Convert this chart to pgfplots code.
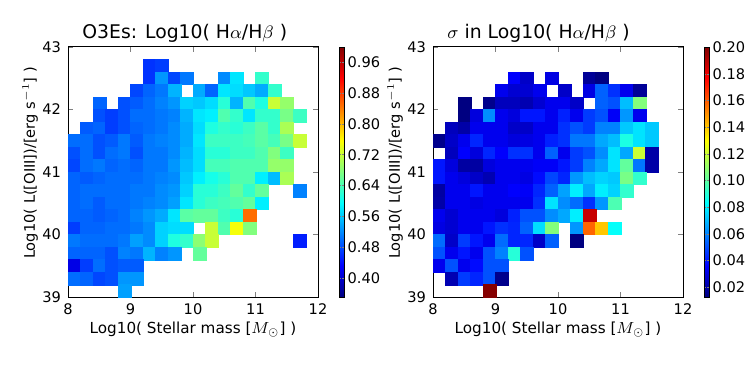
\documentclass[border=0pt]{standalone}
\usepackage{fontspec}
\setmainfont{DejaVu Sans}
\usepackage{pgfplots}
\usepackage{pgfplotstable}
\pgfplotsset{compat=1.18}
\pgfplotstableread{
x y c
9.3 42.7 0.463
9.5 42.7 0.470
9.3 42.5 0.463
9.5 42.5 0.527
9.7 42.5 0.476
9.9 42.5 0.508
10.5 42.5 0.520
10.7 42.5 0.578
11.1 42.5 0.626
9.1 42.3 0.476
9.3 42.3 0.495
9.5 42.3 0.508
9.7 42.3 0.546
10.1 42.3 0.540
10.3 42.3 0.495
10.5 42.3 0.578
10.7 42.3 0.572
10.9 42.3 0.559
11.1 42.3 0.540
11.3 42.3 0.626
8.5 42.1 0.495
8.9 42.1 0.482
9.1 42.1 0.489
9.3 42.1 0.501
9.5 42.1 0.514
9.7 42.1 0.527
9.9 42.1 0.565
10.1 42.1 0.559
10.3 42.1 0.572
10.5 42.1 0.619
10.7 42.1 0.546
10.9 42.1 0.645
11.1 42.1 0.613
11.3 42.1 0.721
11.5 42.1 0.689
8.5 41.9 0.482
8.7 41.9 0.470
8.9 41.9 0.482
9.1 41.9 0.501
9.3 41.9 0.501
9.5 41.9 0.508
9.7 41.9 0.514
9.9 41.9 0.546
10.1 41.9 0.578
10.3 41.9 0.584
10.5 41.9 0.645
10.7 41.9 0.626
10.9 41.9 0.578
11.1 41.9 0.626
11.3 41.9 0.626
11.5 41.9 0.670
11.7 41.9 0.632
8.3 41.7 0.489
8.5 41.7 0.495
8.7 41.7 0.470
8.9 41.7 0.482
9.1 41.7 0.495
9.3 41.7 0.501
9.5 41.7 0.508
9.7 41.7 0.520
9.9 41.7 0.540
10.1 41.7 0.572
10.3 41.7 0.613
10.5 41.7 0.626
10.7 41.7 0.619
10.9 41.7 0.632
11.1 41.7 0.651
11.3 41.7 0.626
11.5 41.7 0.702
8.1 41.5 0.501
8.3 41.5 0.501
8.5 41.5 0.482
8.7 41.5 0.489
8.9 41.5 0.508
9.1 41.5 0.489
9.3 41.5 0.508
9.5 41.5 0.514
9.7 41.5 0.520
9.9 41.5 0.540
10.1 41.5 0.578
10.3 41.5 0.632
10.5 41.5 0.632
10.7 41.5 0.632
10.9 41.5 0.638
11.1 41.5 0.651
11.3 41.5 0.638
11.5 41.5 0.670
11.7 41.5 0.721
8.1 41.3 0.482
8.3 41.3 0.501
8.5 41.3 0.482
8.7 41.3 0.501
8.9 41.3 0.508
9.1 41.3 0.482
9.3 41.3 0.508
9.5 41.3 0.508
9.7 41.3 0.520
9.9 41.3 0.546
10.1 41.3 0.572
10.3 41.3 0.619
10.5 41.3 0.619
10.7 41.3 0.632
10.9 41.3 0.632
11.1 41.3 0.645
11.3 41.3 0.676
11.5 41.3 0.632
8.1 41.1 0.476
8.3 41.1 0.501
8.5 41.1 0.508
8.7 41.1 0.495
8.9 41.1 0.501
9.1 41.1 0.495
9.3 41.1 0.508
9.5 41.1 0.508
9.7 41.1 0.527
9.9 41.1 0.552
10.1 41.1 0.572
10.3 41.1 0.638
10.5 41.1 0.638
10.7 41.1 0.645
10.9 41.1 0.645
11.1 41.1 0.645
11.3 41.1 0.689
11.5 41.1 0.689
8.1 40.9 0.495
8.3 40.9 0.489
8.5 40.9 0.495
8.7 40.9 0.501
8.9 40.9 0.501
9.1 40.9 0.501
9.3 40.9 0.508
9.5 40.9 0.514
9.7 40.9 0.520
9.9 40.9 0.559
10.1 40.9 0.584
10.3 40.9 0.607
10.5 40.9 0.619
10.7 40.9 0.645
10.9 40.9 0.645
11.1 40.9 0.584
11.3 40.9 0.552
11.5 40.9 0.702
8.1 40.7 0.495
8.3 40.7 0.501
8.5 40.7 0.501
8.7 40.7 0.501
8.9 40.7 0.501
9.1 40.7 0.508
9.3 40.7 0.508
9.5 40.7 0.520
9.7 40.7 0.527
9.9 40.7 0.565
10.1 40.7 0.619
10.3 40.7 0.619
10.5 40.7 0.632
10.7 40.7 0.657
10.9 40.7 0.626
11.1 40.7 0.657
11.7 40.7 0.514
8.1 40.5 0.495
8.3 40.5 0.501
8.5 40.5 0.489
8.7 40.5 0.501
8.9 40.5 0.501
9.1 40.5 0.508
9.3 40.5 0.514
9.5 40.5 0.520
9.7 40.5 0.533
9.9 40.5 0.578
10.1 40.5 0.619
10.3 40.5 0.632
10.5 40.5 0.638
10.7 40.5 0.645
10.9 40.5 0.657
11.1 40.5 0.584
8.1 40.3 0.495
8.3 40.3 0.495
8.5 40.3 0.489
8.7 40.3 0.495
8.9 40.3 0.501
9.1 40.3 0.514
9.3 40.3 0.527
9.5 40.3 0.540
9.7 40.3 0.578
9.9 40.3 0.651
10.1 40.3 0.657
10.3 40.3 0.657
10.5 40.3 0.632
10.7 40.3 0.619
10.9 40.3 0.849
8.1 40.1 0.470
8.3 40.1 0.495
8.5 40.1 0.495
8.7 40.1 0.501
8.9 40.1 0.501
9.1 40.1 0.508
9.3 40.1 0.520
9.5 40.1 0.565
9.7 40.1 0.572
9.9 40.1 0.572
10.3 40.1 0.721
10.5 40.1 0.645
10.7 40.1 0.750
10.9 40.1 0.676
8.1 39.9 0.508
8.3 39.9 0.501
8.5 39.9 0.501
8.7 39.9 0.501
8.9 39.9 0.508
9.1 39.9 0.533
9.3 39.9 0.520
9.5 39.9 0.565
9.7 39.9 0.613
9.9 39.9 0.626
10.1 39.9 0.683
10.3 39.9 0.721
11.7 39.9 0.450
8.1 39.7 0.495
8.3 39.7 0.495
8.5 39.7 0.495
8.7 39.7 0.482
8.9 39.7 0.514
9.1 39.7 0.508
9.3 39.7 0.546
9.5 39.7 0.514
9.7 39.7 0.527
10.1 39.7 0.657
8.1 39.5 0.415
8.3 39.5 0.470
8.5 39.5 0.501
8.7 39.5 0.482
8.9 39.5 0.489
9.1 39.5 0.489
8.1 39.3 0.501
8.3 39.3 0.495
8.5 39.3 0.476
8.7 39.3 0.482
8.9 39.3 0.527
9.1 39.3 0.527
8.9 39.1 0.533
}\ratiotable
\pgfplotstableread{
x y c
9.3 42.5 0.036
9.5 42.5 0.026
9.9 42.5 0.031
10.5 42.5 0.017
10.7 42.5 0.013
9.1 42.3 0.033
9.3 42.3 0.028
9.5 42.3 0.028
9.7 42.3 0.033
10.1 42.3 0.026
10.5 42.3 0.031
10.7 42.3 0.054
10.9 42.3 0.045
11.1 42.3 0.033
11.3 42.3 0.017
8.5 42.1 0.013
8.9 42.1 0.015
9.1 42.1 0.024
9.3 42.1 0.024
9.5 42.1 0.022
9.7 42.1 0.028
9.9 42.1 0.033
10.1 42.1 0.033
10.3 42.1 0.026
10.7 42.1 0.054
10.9 42.1 0.051
11.1 42.1 0.071
11.3 42.1 0.107
8.5 41.9 0.013
8.7 41.9 0.030
8.9 41.9 0.062
9.1 41.9 0.033
9.3 41.9 0.030
9.5 41.9 0.040
9.7 41.9 0.040
9.9 41.9 0.033
10.1 41.9 0.042
10.3 41.9 0.033
10.5 41.9 0.047
10.7 41.9 0.051
10.9 41.9 0.035
11.1 41.9 0.064
11.3 41.9 0.033
8.3 41.7 0.024
8.5 41.7 0.020
8.7 41.7 0.033
8.9 41.7 0.033
9.1 41.7 0.033
9.3 41.7 0.026
9.5 41.7 0.026
9.7 41.7 0.033
9.9 41.7 0.033
10.1 41.7 0.045
10.3 41.7 0.051
10.5 41.7 0.047
10.7 41.7 0.060
10.9 41.7 0.060
11.1 41.7 0.073
11.3 41.7 0.078
11.5 41.7 0.073
8.1 41.5 0.015
8.3 41.5 0.026
8.5 41.5 0.033
8.7 41.5 0.043
8.9 41.5 0.033
9.1 41.5 0.033
9.3 41.5 0.030
9.5 41.5 0.031
9.7 41.5 0.033
9.9 41.5 0.042
10.1 41.5 0.045
10.3 41.5 0.058
10.5 41.5 0.058
10.7 41.5 0.067
10.9 41.5 0.071
11.1 41.5 0.088
11.3 41.5 0.078
11.5 41.5 0.073
8.3 41.3 0.024
8.5 41.3 0.036
8.7 41.3 0.030
8.9 41.3 0.043
9.1 41.3 0.036
9.3 41.3 0.045
9.5 41.3 0.045
9.7 41.3 0.033
9.9 41.3 0.054
10.1 41.3 0.033
10.3 41.3 0.047
10.5 41.3 0.051
10.7 41.3 0.062
10.9 41.3 0.078
11.1 41.3 0.067
11.3 41.3 0.120
11.5 41.3 0.020
8.1 41.1 0.040
8.3 41.1 0.030
8.5 41.1 0.019
8.7 41.1 0.019
8.9 41.1 0.030
9.1 41.1 0.033
9.3 41.1 0.033
9.5 41.1 0.033
9.7 41.1 0.035
9.9 41.1 0.035
10.1 41.1 0.040
10.3 41.1 0.047
10.5 41.1 0.060
10.7 41.1 0.067
10.9 41.1 0.078
11.1 41.1 0.101
11.3 41.1 0.058
11.5 41.1 0.020
8.1 40.9 0.040
8.3 40.9 0.033
8.5 40.9 0.030
8.7 40.9 0.026
8.9 40.9 0.022
9.1 40.9 0.033
9.3 40.9 0.033
9.5 40.9 0.031
9.7 40.9 0.038
9.9 40.9 0.049
10.1 40.9 0.043
10.3 40.9 0.064
10.5 40.9 0.071
10.7 40.9 0.075
10.9 40.9 0.073
11.1 40.9 0.105
11.3 40.9 0.092
8.1 40.7 0.019
8.3 40.7 0.033
8.5 40.7 0.033
8.7 40.7 0.040
8.9 40.7 0.033
9.1 40.7 0.033
9.3 40.7 0.036
9.5 40.7 0.035
9.7 40.7 0.043
9.9 40.7 0.054
10.1 40.7 0.066
10.3 40.7 0.080
10.5 40.7 0.067
10.7 40.7 0.080
10.9 40.7 0.075
11.1 40.7 0.092
8.1 40.5 0.020
8.3 40.5 0.033
8.5 40.5 0.033
8.7 40.5 0.031
8.9 40.5 0.033
9.1 40.5 0.033
9.3 40.5 0.033
9.5 40.5 0.033
9.7 40.5 0.045
9.9 40.5 0.078
10.1 40.5 0.062
10.3 40.5 0.056
10.5 40.5 0.045
10.7 40.5 0.064
10.9 40.5 0.097
8.1 40.3 0.033
8.3 40.3 0.028
8.5 40.3 0.033
8.7 40.3 0.033
8.9 40.3 0.033
9.1 40.3 0.030
9.3 40.3 0.042
9.5 40.3 0.051
9.7 40.3 0.051
9.9 40.3 0.062
10.1 40.3 0.067
10.3 40.3 0.080
10.5 40.3 0.187
8.1 40.1 0.031
8.3 40.1 0.028
8.5 40.1 0.033
8.7 40.1 0.033
8.9 40.1 0.040
9.1 40.1 0.045
9.3 40.1 0.043
9.5 40.1 0.054
9.7 40.1 0.077
9.9 40.1 0.107
10.3 40.1 0.064
10.5 40.1 0.158
10.7 40.1 0.140
10.9 40.1 0.084
8.1 39.9 0.056
8.3 39.9 0.026
8.5 39.9 0.047
8.7 39.9 0.040
8.9 39.9 0.033
9.1 39.9 0.056
9.3 39.9 0.043
9.5 39.9 0.043
9.7 39.9 0.026
9.9 39.9 0.054
10.3 39.9 0.013
8.1 39.7 0.051
8.3 39.7 0.033
8.5 39.7 0.040
8.7 39.7 0.033
8.9 39.7 0.051
9.1 39.7 0.060
9.3 39.7 0.090
9.5 39.7 0.051
8.1 39.5 0.033
8.3 39.5 0.051
8.5 39.5 0.033
8.7 39.5 0.038
8.9 39.5 0.051
9.1 39.5 0.051
8.3 39.3 0.022
8.5 39.3 0.047
8.7 39.3 0.043
8.9 39.3 0.051
9.1 39.3 0.015
8.9 39.1 0.199
}\sigmatable
\pgfplotsset{
  heat/.style={
    anchor=south west, scale only axis, width=125pt, height=125pt,
    xmin=8, xmax=12, ymin=39, ymax=43,
    xtick={8,9,10,11,12}, ytick={39,40,41,42,43},
    tick align=inside, tick pos=both, major tick length=2.5pt,
    axis line style={line width=0.5pt},
    /pgf/number format/assume math mode=true,
    tick label style={font=\fontsize{7.3}{8.5}\selectfont},
    label style={font=\fontsize{7.6}{9}\selectfont},
    xlabel={Log10( Stellar mass [$M_\odot$] )},
    ylabel={Log10( L([OIII])/[erg s$^{-1}$] )},
    xlabel style={at={(axis description cs:0.5,-0.132)}, anchor=center},
    ylabel style={at={(axis description cs:-0.152,0.536)}, anchor=center, font=\fontsize{7.3}{9}\selectfont},
    every axis title shift=0pt,
    title style={at={(axis description cs:0.056,1.035)}, anchor=base west, inner sep=0pt, font=\fontsize{9.4}{11}\selectfont},
    colormap/jet,
    axis on top,
  },
  heatcells/.style={scatter, only marks, mark=square*, point meta=explicit,
    scatter/use mapped color={draw=mapped color, fill=mapped color},
    mark size=3.15pt, mark options={line width=0.05pt}},
  cbar/.style={at={(parent axis.north east)}, anchor=north west, xshift=2pt,
    width=2.75pt,
    yticklabel style={font=\fontsize{7.3}{8.5}\selectfont, xshift=-2pt,
      /pgf/number format/.cd, fixed, fixed zerofill, precision=2, assume math mode=true},
    major tick length=1.2pt, tick align=inside},
}
\begin{document}
\begin{tikzpicture}
\path[use as bounding box] (0pt,0pt) rectangle (373.5pt,187pt);
\begin{axis}[heat, at={(34pt,38.5pt)},
  title={O3Es: Log10( H$\alpha$/H$\beta$ )},
  point meta min=0.35, point meta max=1.0,
  colorbar,
  colorbar style={cbar, ytick={0.40,0.48,0.56,0.64,0.72,0.80,0.88,0.96}}]
\addplot[heatcells] table[x index=0, y index=1, meta index=2] {\ratiotable};
\end{axis}
\begin{axis}[heat, at={(216.5pt,38.5pt)},
  title={$\sigma$ in Log10( H$\alpha$/H$\beta$ )},
  point meta min=0.0128, point meta max=0.20,
  colorbar,
  colorbar style={cbar, ytick={0.02,0.04,0.06,0.08,0.10,0.12,0.14,0.16,0.18,0.20}}]
\addplot[heatcells] table[x index=0, y index=1, meta index=2] {\sigmatable};
\end{axis}
\end{tikzpicture}
\end{document}
